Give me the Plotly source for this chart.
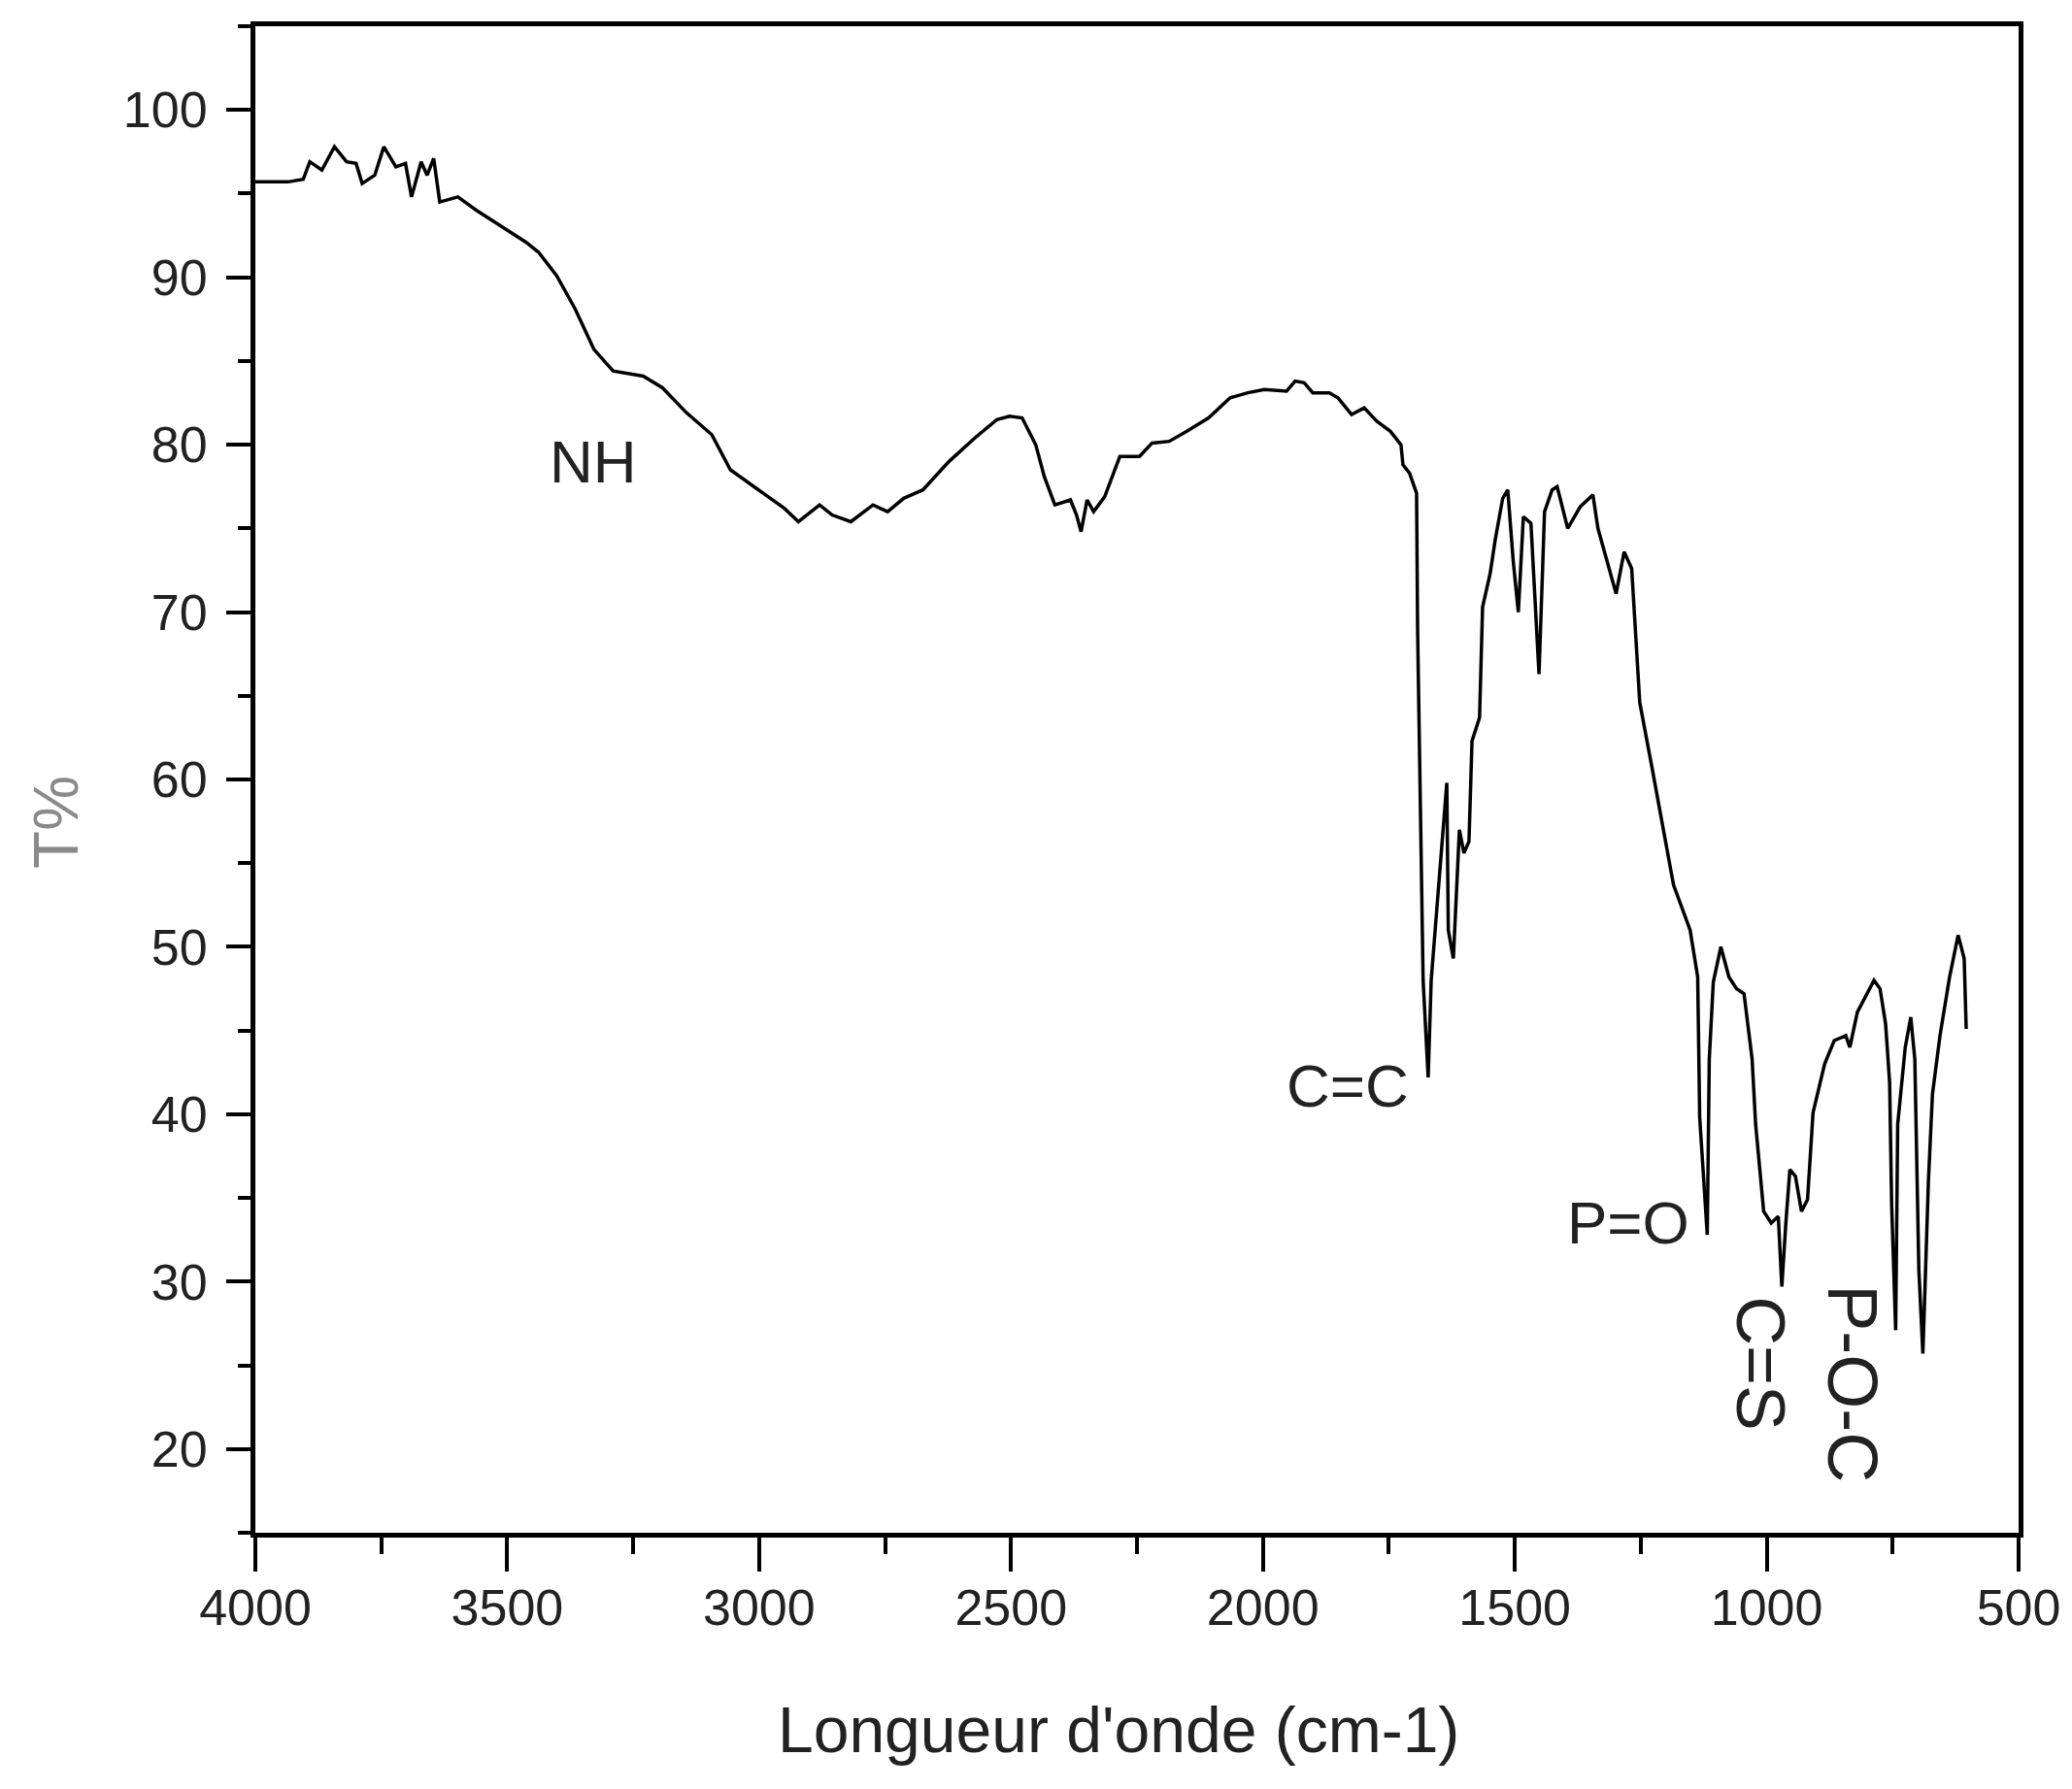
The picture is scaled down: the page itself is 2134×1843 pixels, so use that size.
import plotly.graph_objects as go

# FTIR spectrum
wavenumber = [
    4000, 3935, 3905, 3892, 3868, 3843, 3819, 3800, 3788, 3763, 3745, 3721,
    3702, 3690, 3671, 3659, 3646, 3634, 3598, 3561, 3525, 3463, 3438, 3402,
    3365, 3328, 3290, 3230, 3192, 3144, 3094, 3057, 3020, 2984, 2950, 2922,
    2880, 2855, 2818, 2774, 2745, 2713, 2675, 2623, 2572, 2528, 2503, 2478,
    2451, 2434, 2413, 2382, 2370, 2361, 2349, 2336, 2314, 2284, 2245, 2220,
    2186, 2151, 2108, 2065, 2030, 1997, 1953, 1936, 1918, 1901, 1868, 1851,
    1824, 1799, 1774, 1747, 1726, 1722, 1709, 1695, 1693, 1682, 1672, 1666,
    1651, 1635, 1632, 1622, 1610, 1601, 1591, 1585, 1570, 1564, 1549, 1539,
    1524, 1514, 1503, 1493, 1483, 1468, 1452, 1441, 1426, 1416, 1395, 1370,
    1345, 1335, 1299, 1283, 1268, 1252, 1227, 1200, 1185, 1152, 1137, 1133,
    1118, 1114, 1106, 1091, 1075, 1060, 1045, 1029, 1022, 1006, 991, 977,
    970, 962, 954, 943, 931, 919, 908, 885, 866, 843, 835, 820,
    787, 775, 764, 756, 752, 744, 740, 725, 714, 706, 698, 690,
    679, 671, 656, 637, 620, 608, 604,
]
transmittance = [
    95.7, 95.7, 95.85, 96.9, 96.4, 97.8, 96.9, 96.8, 95.6, 96.1, 97.8, 96.6,
    96.8, 94.8, 96.9, 96.1, 97.1, 94.5, 94.8, 94.0, 93.3, 92.1, 91.5, 90.1,
    88.1, 85.7, 84.4, 84.1, 83.4, 81.9, 80.6, 78.5, 77.7, 76.9, 76.2, 75.4,
    76.4, 75.8, 75.4, 76.4, 76.0, 76.8, 77.3, 79.0, 80.4, 81.5, 81.7, 81.6,
    80.0, 78.1, 76.4, 76.7, 75.8, 74.8, 76.7, 76.0, 76.9, 79.3, 79.3, 80.1,
    80.2, 80.8, 81.6, 82.8, 83.1, 83.3, 83.2, 83.8, 83.7, 83.1, 83.1, 82.8,
    81.8, 82.2, 81.4, 80.8, 80.0, 78.8, 78.3, 77.1, 69.0, 48.0, 42.2, 48.0,
    54.0, 59.8, 51.0, 49.3, 57.0, 55.6, 56.3, 62.3, 63.7, 70.3, 72.3, 74.3,
    76.8, 77.3, 73.0, 70.0, 75.7, 75.3, 66.3, 76.0, 77.3, 77.5, 75.0, 76.3,
    77.0, 75.0, 71.1, 73.6, 72.6, 64.6, 60.6, 56.3, 53.7, 51.0, 48.2, 39.8,
    32.8, 43.3, 47.9, 50.0, 48.2, 47.5, 47.2, 43.3, 39.4, 34.2, 33.5, 33.9,
    29.7, 33.5, 36.7, 36.3, 34.2, 34.9, 40.1, 43.0, 44.4, 44.7, 44.0, 46.1,
    48.0, 47.5, 45.4, 41.9, 34.6, 27.1, 39.4, 44.0, 45.8, 43.3, 30.7, 25.7,
    36.0, 41.2, 44.7, 48.2, 50.7, 49.3, 45.1,
]

# band labels: text, x, y, angle, size
band_text = ["NH", "C=C", "P=O", "C=S", "P-O-C"]
band_x = [3330, 1832, 1275, 1012, 829]
band_y = [79.0, 41.7, 33.5, 25.1, 23.9]
band_angle = [0, 0, 0, 90, 90]
band_size = [62, 62, 62, 70, 72]

x_ticks = [4000, 3500, 3000, 2500, 2000, 1500, 1000, 500]
y_ticks = [20, 30, 40, 50, 60, 70, 80, 90, 100]

FONT = "Liberation Sans, Arial, sans-serif"

fig = go.Figure()

fig.add_trace(
    go.Scatter(
        x=wavenumber,
        y=transmittance,
        mode="lines",
        line=dict(color="black", width=3.5),
        showlegend=False,
    )
)

for text, bx, by, ang, sz in zip(band_text, band_x, band_y, band_angle, band_size):
    fig.add_annotation(
        x=bx,
        y=by,
        text=text,
        textangle=ang,
        showarrow=False,
        xanchor="center",
        yanchor="middle",
        font=dict(family=FONT, size=sz, color="#222222"),
    )

# axis titles placed as paper annotations
fig.add_annotation(
    xref="paper", yref="paper",
    x=-0.1125, y=0.4715,
    xanchor="center", yanchor="middle",
    text="T%",
    textangle=-90,
    showarrow=False,
    font=dict(family=FONT, size=64, color="#8a8a8a"),
)
fig.add_annotation(
    xref="paper", yref="paper",
    x=0.4895, y=-0.1308,
    xanchor="center", yanchor="middle",
    text="Longueur d'onde (cm-1)",
    showarrow=False,
    font=dict(family=FONT, size=66, color="#222222"),
)

fig.update_xaxes(
    range=[4000, 500],
    tickvals=x_ticks,
    ticks="outside",
    ticklen=35,
    tickwidth=4,
    tickcolor="black",
    minor=dict(dtick=250, ticks="outside", ticklen=17, tickwidth=4, tickcolor="black"),
    showline=True,
    linecolor="black",
    linewidth=5,
    mirror=True,
    showgrid=False,
    zeroline=False,
    ticklabelstandoff=-7,
    tickfont=dict(family=FONT, size=52, color="#222222"),
)
fig.update_yaxes(
    range=[15, 105],
    tickvals=y_ticks,
    ticks="outside",
    ticklen=25,
    tickwidth=4,
    tickcolor="black",
    minor=dict(dtick=5, ticks="outside", ticklen=13, tickwidth=4, tickcolor="black"),
    showline=True,
    linecolor="black",
    linewidth=5,
    mirror=True,
    showgrid=False,
    zeroline=False,
    ticklabelstandoff=9,
    tickfont=dict(family=FONT, size=52, color="#222222"),
)

# page body keeps an 8px default margin, so the figure is offset by 8px
fig.update_layout(
    width=2126,
    height=1827,
    margin=dict(l=255, r=52, t=19, b=256),
    plot_bgcolor="white",
    paper_bgcolor="white",
)

fig.write_html("out.html")
